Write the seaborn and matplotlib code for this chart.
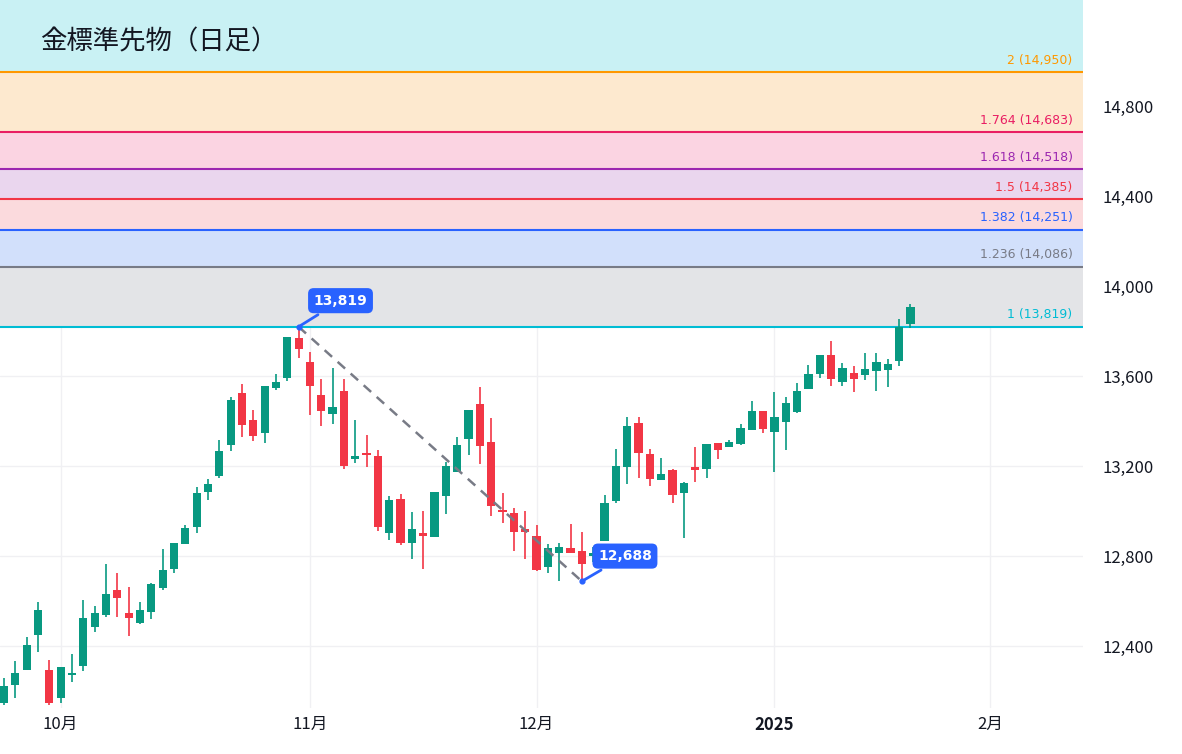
import pandas as pd
import matplotlib
matplotlib.use("Agg")
import matplotlib.pyplot as plt
import seaborn as sns

# === DATA (daily candles) ===
opens = [12147, 12227, 12293, 12449, 12293, 12169, 12271, 12311, 12484, 12538,
         12649, 12547, 12502, 12551, 12658, 12742, 12853, 12929, 13084, 13155,
         13293, 13524, 13404, 13347, 13547, 13591, 13769, 13662, 13515, 13431,
         13533, 13231, 13250, 13244, 12902, 13053, 12858, 12902, 12884, 13067,
         13173, 13320, 13475, 13307, 12997, 12991, 12920, 12889, 12751, 12813,
         12835, 12822, 12800, 12867, 13044, 13196, 13391, 13253, 13138, 13182,
         13080, 13196, 13187, 13302, 13284, 13298, 13360, 13444, 13351, 13395,
         13440, 13542, 13609, 13693, 13573, 13613, 13604, 13622, 13627, 13667,
         13831]
highs = [12258, 12333, 12440, 12595, 12338, 12307, 12364, 12604, 12578, 12764,
         12724, 12662, 12595, 12680, 12831, 12858, 12938, 13107, 13142, 13316,
         13507, 13564, 13449, 13556, 13609, 13773, 13819, 13707, 13587, 13636,
         13587, 13404, 13338, 13271, 13067, 13075, 12995, 13000, 13084, 13218,
         13329, 13449, 13551, 13413, 13080, 13013, 13000, 12938, 12853, 12858,
         12942, 12907, 12840, 13071, 13275, 13418, 13418, 13275, 13235, 13187,
         13129, 13284, 13298, 13302, 13316, 13387, 13489, 13444, 13529, 13507,
         13569, 13649, 13693, 13755, 13658, 13644, 13702, 13702, 13676, 13853,
         13920]
lows = [12138, 12169, 12293, 12373, 12138, 12147, 12240, 12289, 12462, 12529,
        12529, 12444, 12498, 12520, 12649, 12724, 12853, 12902, 13049, 13147,
        13267, 13329, 13311, 13302, 13538, 13578, 13680, 13427, 13378, 13387,
        13187, 13213, 13196, 12911, 12871, 12849, 12787, 12742, 12884, 12987,
        13173, 13249, 13209, 12978, 12947, 12822, 12787, 12733, 12724, 12689,
        12813, 12688, 12773, 12867, 13035, 13120, 13147, 13111, 13138, 13035,
        12880, 13129, 13147, 13231, 13284, 13293, 13360, 13347, 13173, 13271,
        13436, 13542, 13591, 13556, 13556, 13529, 13582, 13533, 13551, 13644,
        13813]
closes = [12222, 12280, 12404, 12560, 12147, 12307, 12275, 12524, 12547, 12631,
          12613, 12524, 12560, 12675, 12738, 12858, 12924, 13080, 13120, 13267,
          13493, 13382, 13333, 13556, 13573, 13773, 13720, 13556, 13444, 13462,
          13200, 13244, 13249, 12929, 13049, 12858, 12920, 12889, 13084, 13200,
          13293, 13449, 13289, 13022, 12995, 12907, 12907, 12738, 12835, 12840,
          12813, 12764, 12813, 13035, 13200, 13378, 13258, 13142, 13164, 13071,
          13124, 13182, 13298, 13271, 13307, 13369, 13444, 13364, 13418, 13480,
          13533, 13609, 13693, 13587, 13636, 13587, 13631, 13662, 13653, 13818,
          13907]

month_labels = ["10月", "11月", "12月", "2025", "2月"]
month_index = [5, 27, 47, 68, 87]

fib_ratios = ["1", "1.236", "1.382", "1.5", "1.618", "1.764", "2"]
fib_prices = [13819, 14086, 14251, 14385, 14518, 14683, 14950]
fib_line_colors = ["#00bcd4", "#787b86", "#2962ff", "#f23645", "#9c27b0", "#e91e63", "#ff9800"]
fib_fill_colors = ["#e3e4e7", "#d2e0fb", "#fbdadd", "#ead6ee", "#fbd4e2", "#fde9cf", "#c9f1f4"]

swing_high = (26, 13819)
swing_low = (51, 12688)

# === PLOT ===
sns.set_theme(style="white")
plt.rcParams["font.family"] = ["Noto Sans CJK JP", "DejaVu Sans"]

fig = plt.figure(figsize=(11.82, 7.54), dpi=100)
ax = fig.add_axes([0, 0.061, 0.916, 0.939])

YMIN, YMAX = 12125, 15271
XMIN, XMAX = -0.35, 95.2

# fib bands
for i, price in enumerate(fib_prices):
    top = fib_prices[i + 1] if i + 1 < len(fib_prices) else YMAX
    ax.axhspan(price, top, color=fib_fill_colors[i], zorder=0, lw=0)
    ax.axhline(price, color=fib_line_colors[i], lw=1.5, zorder=1)
    ax.text(XMAX - 0.9, price + 25, f"{fib_ratios[i]} ({price:,})", color=fib_line_colors[i],
            ha="right", va="bottom", fontsize=9, family=["DejaVu Sans"], zorder=5)

# grid (under the bands)
for v in range(12400, 14801, 400):
    ax.axhline(v, color="#f0f0f3", lw=1, zorder=-1)
for m in month_index:
    ax.axvline(m, color="#f0f0f3", lw=1, zorder=-1)

df = pd.DataFrame({"o": opens, "h": highs, "l": lows, "c": closes})
df["x"] = range(len(df))
up = df["c"] >= df["o"]
colors = ["#089981" if u else "#f23645" for u in up]
ax.vlines(df["x"], df["l"], df["h"], colors=colors, lw=1.2, zorder=2)
bottom = df[["o", "c"]].min(axis=1)
height = (df["c"] - df["o"]).abs().clip(lower=8)
ax.bar(df["x"], height, bottom=bottom, width=0.72, color=colors, zorder=3, lw=0)

# dashed swing line
sw = pd.DataFrame({"x": [swing_high[0], swing_low[0]], "y": [swing_high[1], swing_low[1]]})
sns.lineplot(data=sw, x="x", y="y", ax=ax, color="#787b86", lw=1.8, linestyle=(0, (4, 3)), zorder=4)
ax.scatter(sw["x"], sw["y"], s=12, color="#2962ff", zorder=6)

box = dict(boxstyle="round,pad=0.4", fc="#2962ff", ec="none")
ax.annotate(f"{swing_high[1]:,}", xy=swing_high, xytext=(swing_high[0] + 3.7, 13935),
            color="white", fontsize=10, fontweight="bold", ha="center", va="center", bbox=box,
            family=["DejaVu Sans"],
            arrowprops=dict(arrowstyle="-", color="#2962ff", lw=2), zorder=7)
ax.annotate(f"{swing_low[1]:,}", xy=swing_low, xytext=(swing_low[0] + 3.8, 12800),
            color="white", fontsize=10, fontweight="bold", ha="center", va="center", bbox=box,
            family=["DejaVu Sans"],
            arrowprops=dict(arrowstyle="-", color="#2962ff", lw=2), zorder=7)

ax.text(3.2, 15085, "金標準先物（日足）", fontsize=19, color="#131722", va="center", zorder=8)

ax.set_xlim(XMIN, XMAX)
ax.set_ylim(YMIN, YMAX)
ax.set_xticks(month_index)
ax.set_xticklabels(month_labels, fontsize=12, color="#131722")
for lbl in ax.get_xticklabels():
    if lbl.get_text() == "2025":
        lbl.set_fontweight("bold")
ax.set_yticks(range(12400, 14801, 400))
ax.set_yticklabels([f"{v:,}" for v in range(12400, 14801, 400)], fontsize=12, color="#131722")
ax.yaxis.tick_right()
ax.tick_params(axis="both", length=0, pad=14)
ax.tick_params(axis="x", pad=6)
ax.set_xlabel("")
ax.set_ylabel("")
ax.grid(False)
for s in ax.spines.values():
    s.set_visible(False)

fig.savefig("out.png", dpi=100)
